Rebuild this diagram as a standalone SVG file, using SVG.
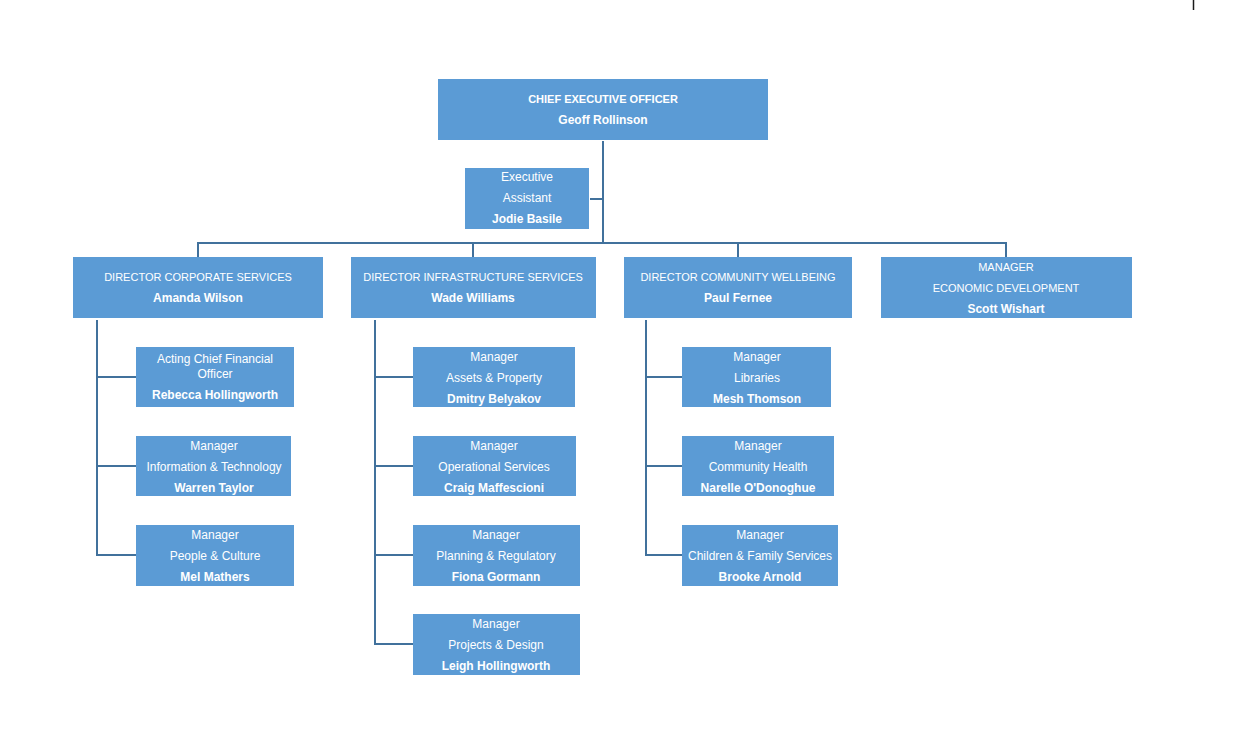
<svg xmlns="http://www.w3.org/2000/svg" width="1236" height="737" viewBox="0 0 1236 737">
<style>
.box{fill:#5B9BD5;}
.t{font-family:"Liberation Sans",Arial,sans-serif;font-size:12px;fill:#FFFFFF;text-anchor:middle;dominant-baseline:central;}
.u{font-size:11px;}
.b{font-weight:bold;}
.c{stroke:#41719C;stroke-width:2;fill:none;}
</style>
<rect width="1236" height="737" fill="#FFFFFF"/>
<line x1="1193.5" y1="0" x2="1193.5" y2="10" stroke="#1a1a1a" stroke-width="1.5"/>
<g id="connectors">
<path class="c" d="M603 141 V243"/>
<path class="c" d="M590 199 H603"/>
<path class="c" d="M198 257 V243 H1006 V257"/>
<path class="c" d="M473 243 V257"/>
<path class="c" d="M738 243 V257"/>
<path class="c" d="M97 320 V555 H136 M97 377 H136 M97 466 H136"/>
<path class="c" d="M375 320 V644 H413 M375 377 H413 M375 466 H413 M375 555 H413"/>
<path class="c" d="M646 320 V555 H682 M646 377 H682 M646 466 H682"/>
</g>
<g id="ceo"><rect class="box" x="438" y="79" width="330" height="61"/>
<text class="t u b" x="603" y="98.5">CHIEF EXECUTIVE OFFICER</text>
<text class="t b" x="603" y="119.5">Geoff Rollinson</text></g>
<g id="ea"><rect class="box" x="465" y="168" width="124" height="61"/>
<text class="t" x="527" y="176.5">Executive</text>
<text class="t" x="527" y="197.5">Assistant</text>
<text class="t b" x="527" y="219">Jodie Basile</text></g>
<g id="dir-corporate"><rect class="box" x="73" y="257" width="250" height="61"/>
<text class="t u" x="198" y="276.5">DIRECTOR CORPORATE SERVICES</text>
<text class="t b" x="198" y="297.5">Amanda Wilson</text></g>
<g id="dir-infra"><rect class="box" x="351" y="257" width="245" height="61"/>
<text class="t u" x="473" y="276.5">DIRECTOR INFRASTRUCTURE SERVICES</text>
<text class="t b" x="473" y="297.5">Wade Williams</text></g>
<g id="dir-community"><rect class="box" x="624" y="257" width="228" height="61"/>
<text class="t u" x="738" y="276.5">DIRECTOR COMMUNITY WELLBEING</text>
<text class="t b" x="738" y="297.5">Paul Fernee</text></g>
<g id="mgr-econ"><rect class="box" x="881" y="257" width="251" height="61"/>
<text class="t u" x="1006" y="266.5">MANAGER</text>
<text class="t u" x="1006" y="287.5">ECONOMIC DEVELOPMENT</text>
<text class="t b" x="1006" y="308.5">Scott Wishart</text></g>
<g id="cfo"><rect class="box" x="136" y="347" width="158" height="60"/>
<text class="t" x="215" y="358.5">Acting Chief Financial</text>
<text class="t" x="215" y="373.5">Officer</text>
<text class="t b" x="215" y="394.5">Rebecca Hollingworth</text></g>
<g id="mgr-it"><rect class="box" x="136" y="436" width="155" height="60"/>
<text class="t" x="214" y="445.5">Manager</text>
<text class="t" x="214" y="466.5">Information &amp; Technology</text>
<text class="t b" x="214" y="487.5">Warren Taylor</text></g>
<g id="mgr-people"><rect class="box" x="136" y="525" width="158" height="61"/>
<text class="t" x="215" y="534.5">Manager</text>
<text class="t" x="215" y="555.5">People &amp; Culture</text>
<text class="t b" x="215" y="576.5">Mel Mathers</text></g>
<g id="mgr-assets"><rect class="box" x="413" y="347" width="162" height="60"/>
<text class="t" x="494" y="356.5">Manager</text>
<text class="t" x="494" y="377.5">Assets &amp; Property</text>
<text class="t b" x="494" y="398.5">Dmitry Belyakov</text></g>
<g id="mgr-ops"><rect class="box" x="413" y="436" width="163" height="60"/>
<text class="t" x="494" y="445.5">Manager</text>
<text class="t" x="494" y="466.5">Operational Services</text>
<text class="t b" x="494" y="487.5">Craig Maffescioni</text></g>
<g id="mgr-planning"><rect class="box" x="413" y="525" width="167" height="61"/>
<text class="t" x="496" y="534.5">Manager</text>
<text class="t" x="496" y="555.5">Planning &amp; Regulatory</text>
<text class="t b" x="496" y="576.5">Fiona Gormann</text></g>
<g id="mgr-projects"><rect class="box" x="413" y="614" width="167" height="61"/>
<text class="t" x="496" y="623.5">Manager</text>
<text class="t" x="496" y="644.5">Projects &amp; Design</text>
<text class="t b" x="496" y="665.5">Leigh Hollingworth</text></g>
<g id="mgr-libraries"><rect class="box" x="682" y="347" width="149" height="60"/>
<text class="t" x="757" y="356.5">Manager</text>
<text class="t" x="757" y="377.5">Libraries</text>
<text class="t b" x="757" y="398.5">Mesh Thomson</text></g>
<g id="mgr-health"><rect class="box" x="682" y="436" width="152" height="60"/>
<text class="t" x="758" y="445.5">Manager</text>
<text class="t" x="758" y="466.5">Community Health</text>
<text class="t b" x="758" y="487.5">Narelle O'Donoghue</text></g>
<g id="mgr-children"><rect class="box" x="682" y="525" width="156" height="61"/>
<text class="t" x="760" y="534.5">Manager</text>
<text class="t" x="760" y="555.5">Children &amp; Family Services</text>
<text class="t b" x="760" y="576.5">Brooke Arnold</text></g>
</svg>
